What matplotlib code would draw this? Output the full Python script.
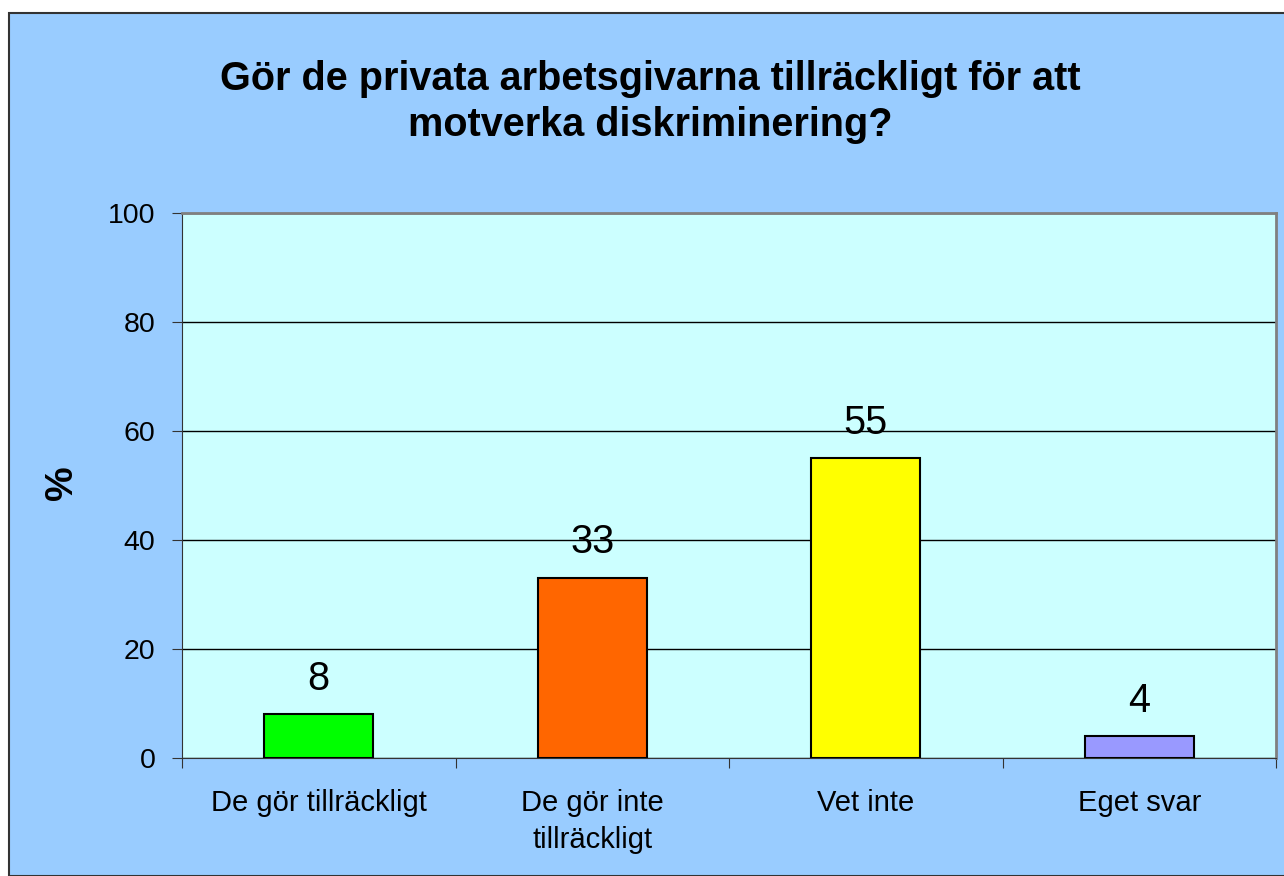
import numpy as np
import matplotlib.pyplot as plt
from matplotlib.patches import Rectangle

plt.rcParams['font.family'] = ['Liberation Sans', 'DejaVu Sans']

# data
kategorier = ['De gör tillräckligt', 'De gör inte\ntillräckligt', 'Vet inte', 'Eget svar']
andelar = [8, 33, 55, 4]
farger = ['#00FF00', '#FF6600', '#FFFF00', '#9999FF']
yticks = [0, 20, 40, 60, 80, 100]

W, H = 1284, 876
fig = plt.figure(figsize=(W / 100, H / 100), dpi=100, facecolor='white')

# chart area background with border
fig.patches.append(Rectangle((9 / W, 0), 1.0, 1 - 13 / H, transform=fig.transFigure,
                             facecolor='#99CCFF', edgecolor='#333333', linewidth=1.5, zorder=-5))

ax = fig.add_axes([182 / W, 1 - 758 / H, (1276 - 182) / W, (758 - 213) / H])
ax.set_zorder(2)
ax.set_facecolor('#CCFFFF')

x = np.arange(len(kategorier))
bars = ax.bar(x, andelar, width=0.40, color=farger, edgecolor='black', linewidth=1.5, zorder=3)
for xi, v in zip(x, andelar):
    ax.annotate(str(v), (xi, v), xytext=(0, 12), textcoords='offset points',
                ha='center', va='bottom', fontsize=28.5)

ax.set_xlim(-0.5, len(kategorier) - 0.5)
ax.set_ylim(0, 100)
ax.set_yticks(yticks)
ax.set_yticklabels([str(t) for t in yticks], fontsize=20.5)
ax.yaxis.grid(True, color='black', linewidth=1.0, zorder=1)
ax.set_axisbelow(True)

# category ticks at boundaries, labels at centers
ax.set_xticks(np.arange(-0.5, len(kategorier)), minor=False)
ax.set_xticklabels([])
ax.set_xticks(x, minor=True)
ax.set_xticklabels(kategorier, minor=True, fontsize=21, linespacing=1.45)
ax.tick_params(axis='x', which='minor', length=0, pad=22)
ax.tick_params(axis='x', which='major', length=7, color='#333333', direction='out')
ax.tick_params(axis='y', length=7, color='#333333', direction='out', pad=12)

for side in ['top', 'right']:
    ax.spines[side].set_color('#808080')
    ax.spines[side].set_linewidth(2)
ax.spines['left'].set_color('#333333')
ax.spines['bottom'].set_color('#333333')

fig.text(62 / W, 1 - 483 / H, '%', rotation=90, ha='center', va='center',
         fontsize=28, fontweight='bold')

fig.text(650 / W, 1 - 102 / H, 'Gör de privata arbetsgivarna tillräckligt för att\nmotverka diskriminering?',
         ha='center', va='center', fontsize=28.5, fontweight='bold', linespacing=1.3)

fig.savefig('out.png', dpi=100, facecolor='white')
